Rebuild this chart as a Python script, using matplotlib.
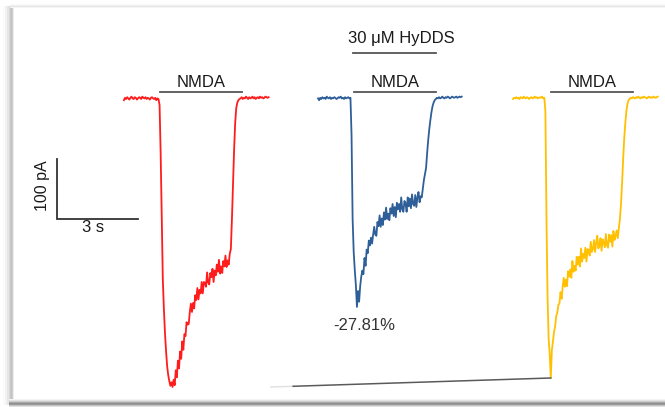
import numpy as np
import matplotlib
matplotlib.use("Agg")
import matplotlib.pyplot as plt
from matplotlib.patches import Rectangle

plt.rcParams["font.family"] = ["Liberation Sans", "DejaVu Sans"]

# ---- recorded whole-cell currents (pA), sampled every DT seconds ----
DT = 0.04  # s per sample

control_pA = [
    -2, 2, 0, 3, 1, -1, 2, 4, 1, 0, 3, 2, -1, 1, 3, 2, 0, 4, 2, 1, 3, 0, 2, 1, -1, 2, 3, 1, 0, 2, -2, 1, 0,
    -10, -90, -190, -300, -350, -390, -420, -445, -460, -470, -478, -472, -480, -468, -477, -452, -464,
    -436, -449, -421, -433, -404, -418,
    -392, -395, -372, -376, -375, -355, -341, -355, -340, -349, -327, -335, -315, -334, -318, -324,
    -305, -324, -305, -306, -313, -289, -306, -309, -290, -297, -283, -305, -286, -294, -276, -288,
    -268, -291, -279, -290, -270, -279, -261, -280, -269, -276, -258,
    -250, -200, -140, -85, -40, -15, -6, -2,
    0, 1, 3, 0, 2, 1, 4, 2, 0, 3, 1, 2, 4, 1, 3, 0, 2, 3, 1, 4, 2, 3, 1, 2, 4, 3, 2, 3,
]

hydds_pA = [
    1, -2, 2, 0, 3, 1, 2, 0, 4, 2, 1, 3, 0, 2, 1, 3, 2, 0, 1, 3, 2, 4, 1, 2, 0, 3, 1, 2, 3, 1, 2,
    -60, -200, -255, -285, -310, -346.51, -320, -338, -312, -296, -286, -292, -265, -278,
    -251, -257, -236, -244, -231, -241, -226, -213, -226, -228, -205, -212, -194, -213, -199, -210,
    -189, -201, -181, -200, -191, -202, -182, -191, -175, -195, -180, -197, -173, -184, -175, -188,
    -164, -184, -188, -170, -174, -188, -164, -179, -166, -182, -159, -175, -178, -160, -180, -164,
    -155, -172, -162, -164,
    -150, -135, -125, -115, -90, -68, -50, -35, -22, -12, -6, -2,
    0, 2, 1, 3, 1, 2, 4, 2, 1, 3, 2, 4, 3, 1, 2, 4, 3, 2, 3, 4, 2, 3, 4, 3, 4,
]

washout_pA = [
    0, 2, 1, 3, 1, 2, 0, 3, 2, 1, 4, 2, 1, 3, 2, 0, 2, 3, 1, 2, 4, 2, 3, 1, 2, 3, 2, 4, 1, 2,
    -20, -200, -330, -400, -425, -465, -418, -404, -388, -379, -362, -356, -343,
    -341, -322, -333, -313, -298, -313, -301, -312, -287, -296, -284, -298, -270, -288, -278, -286,
    -263, -276, -263, -279, -249, -271, -258, -265, -248, -271, -250, -252, -261, -238, -255, -250,
    -235, -255, -240, -228, -249, -245, -232, -253, -234, -239, -247, -225, -243, -248, -226, -238,
    -227, -246, -220, -235, -228, -219, -232, -215,
    -200, -175, -140, -100, -65, -40, -20, -8, -2,
    0, 2, 1, 3, 2, 1, 3, 2, 4, 2, 1, 3, 2, 4, 3, 2, 1, 3, 4, 2, 3, 2, 4, 3, 2, 3, 4,
]

traces = [control_pA, hydds_pA, washout_pA]
trace_start_s = [4.59, 11.78, 19.0]
trace_colors = ["#ff1c1c", "#2f5f98", "#ffc000"]
nmda_on_s = [1.33, 1.33, 1.42]
nmda_off_s = [4.37, 4.37, 4.44]
hydds_on_s, hydds_off_s = 1.30, 4.37
nmda_label = "NMDA"
hydds_label = "30 \u03bcM HyDDS"

W, H = 665, 407
fig = plt.figure(figsize=(W / 100, H / 100), dpi=100)

# ---- framed panel with a soft drop shadow ----
bg = fig.add_axes([0, 0, 1, 1])
bg.set_xlim(0, W)
bg.set_ylim(H, 0)
bg.axis("off")

left_cols = [(3, "#fafafa"), (5, "#f2f2f2"), (7, "#e6e6e6"), (9, "#d8d8d8"),
             (10, "#c9c9c9"), (11, "#c2c2c2"), (12, "#cfcfcf"), (13, "#ededed")]
for x, c in left_cols:
    bg.add_patch(Rectangle((x, 6), 1.0 if x >= 9 else 2.0, 399, color=c, lw=0))
top_rows = [(4, "#f9f9f9"), (5, "#f0f0f0"), (6, "#e7e7e7"), (7, "#f5f5f5")]
for y, c in top_rows:
    bg.add_patch(Rectangle((10, y), W - 10, 1.0, color=c, lw=0))
bottom_rows = [(399, "#f3f3f3"), (400, "#e3e3e3"), (401, "#cdcdcd"), (402, "#a9a9a9"),
               (403, "#8f8f8f"), (404, "#9b9b9b"), (405, "#c2c2c2"), (406, "#e2e2e2")]
for y, c in bottom_rows:
    bg.add_patch(Rectangle((9, y), W - 9, 1.0, color=c, lw=0))

# ---- current traces ----
ax = fig.add_axes([0, 0, 1, 1])
ax.patch.set_alpha(0)
ax.set_xlim(0, W / 27.0)
ax.set_ylim((99 - H) / 0.6, 99 / 0.6)
ax.axis("off")

times = []
for vals, t0, col in zip(traces, trace_start_s, trace_colors):
    t = t0 + np.arange(len(vals)) * DT
    times.append(t)
    ax.plot(t, vals, color=col, lw=1.3, solid_joinstyle="round")

bar_col = "#555555"
txt_col = "#1a1a1a"
for t0, on, off in zip(trace_start_s, nmda_on_s, nmda_off_s):
    ax.plot([t0 + on, t0 + off], [11.7, 11.7], color=bar_col, lw=1.3)
    ax.text(t0 + (on + off) / 2, 19.5, nmda_label, ha="center", va="baseline",
            fontsize=12, color=txt_col)

ht0 = trace_start_s[1]
ax.plot([ht0 + hydds_on_s, ht0 + hydds_off_s], [76.7, 76.7], color=bar_col, lw=1.3)
ax.text(ht0 + (hydds_on_s + hydds_off_s) / 2 + 0.25, 93.5, hydds_label,
        ha="center", va="baseline", fontsize=12, color=txt_col)

# peak inhibition by HyDDS relative to control
red_peak = min(control_pA)
blue_peak = min(hydds_pA)
i_blue = int(np.argmin(hydds_pA))
pct = (blue_peak / red_peak - 1) * 100
ax.text(times[1][i_blue] + 0.26, -385, f"{pct:.2f}%", ha="center", va="baseline",
        fontsize=12, color="#333333")

# run-down line joining control and wash-out peaks
i_yel = int(np.argmin(washout_pA))
x0, y0 = times[0][-1] + 0.08, red_peak
x1, y1 = times[2][i_yel], min(washout_pA)
xm, ym = x0 + 0.08 * (x1 - x0), y0 + 0.08 * (y1 - y0)
ax.plot([x0, xm], [y0, ym], color="#e2e2e2", lw=1.1)
ax.plot([xm, x1], [ym, y1], color="#5a5a5a", lw=1.1)

# scale bars: 3 s, 100 pA
sb_t, sb_i = 2.1, -200
ax.plot([sb_t, sb_t, sb_t + 3], [sb_i + 100, sb_i, sb_i], color="#333333", lw=1.3,
        solid_joinstyle="miter")
ax.text(sb_t + 1.35, -221.5, "3 s", ha="center", va="baseline", fontsize=12,
        color=txt_col)
ax.text(1.59, -145, "100 pA", ha="center", va="center", rotation=90, fontsize=11.5,
        color=txt_col)

fig.savefig("out.png", dpi=100)
